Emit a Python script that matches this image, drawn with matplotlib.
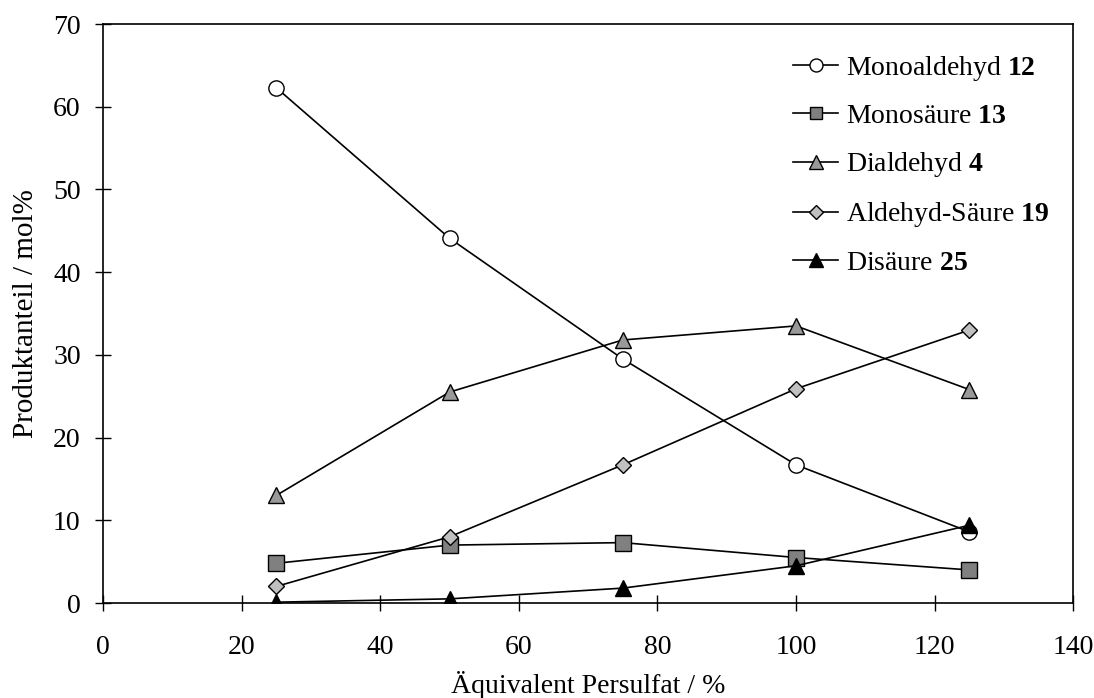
import matplotlib
matplotlib.use("Agg")
import matplotlib.pyplot as plt

plt.rcParams['font.family'] = ['Liberation Serif', 'DejaVu Serif']
plt.rcParams['mathtext.fontset'] = 'custom'
plt.rcParams['mathtext.rm'] = 'Liberation Serif'
plt.rcParams['mathtext.bf'] = 'Liberation Serif:bold'

# data
persulfat = [25, 50, 75, 100, 125]
monoaldehyd = [62.3, 44.1, 29.5, 16.7, 8.6]
monosaeure = [4.8, 7.0, 7.3, 5.5, 4.0]
dialdehyd = [13.0, 25.5, 31.8, 33.5, 25.8]
aldehyd_saeure = [2.0, 8.0, 16.7, 25.9, 33.0]
disaeure = [0.1, 0.5, 1.8, 4.5, 9.4]

labels = [r"Monoaldehyd $\mathbf{12}$", r"Monosäure $\mathbf{13}$",
          r"Dialdehyd $\mathbf{4}$", r"Aldehyd-Säure $\mathbf{19}$",
          r"Disäure $\mathbf{25}$"]

fig = plt.figure(figsize=(10.94, 6.98), dpi=100)
ax = fig.add_axes([0.0941, 0.1361, 0.887, 0.8295])

series = [
    (monoaldehyd, 'o', 'white', 11),
    (monosaeure, 's', '#808080', 11),
    (dialdehyd, '^', '#999999', 12),
    (aldehyd_saeure, 'D', '#c0c0c0', 8.5),
    (disaeure, '^', 'black', 12),
]
for (vals, m, fc, ms), lab in zip(series, labels):
    ax.plot(persulfat, vals, color='black', lw=1.2, marker=m, markersize=ms,
            markerfacecolor=fc, markeredgecolor='black', markeredgewidth=1.0,
            label=lab)

ax.set_xlim(0, 140)
ax.set_ylim(0, 70)
ax.set_xticks(range(0, 141, 20))
ax.set_yticks(range(0, 71, 10))
ax.tick_params(direction='inout', length=12, width=1, labelsize=20)
ax.tick_params(axis='x', pad=17)
ax.tick_params(axis='y', pad=10)
for s in ax.spines.values():
    s.set_linewidth(1.2)
ax.set_xlabel("Äquivalent Persulfat / %", fontsize=20, labelpad=8)
ax.set_ylabel("Produktanteil / mol%", fontsize=21, labelpad=10)

leg = ax.legend(loc='upper left', frameon=False, fontsize=20, markerscale=0.85,
                handlelength=1.6, handletextpad=0.3, labelspacing=0.76,
                borderaxespad=0.0, bbox_to_anchor=(0.70, 0.968))

fig.savefig("out.png", dpi=100)
